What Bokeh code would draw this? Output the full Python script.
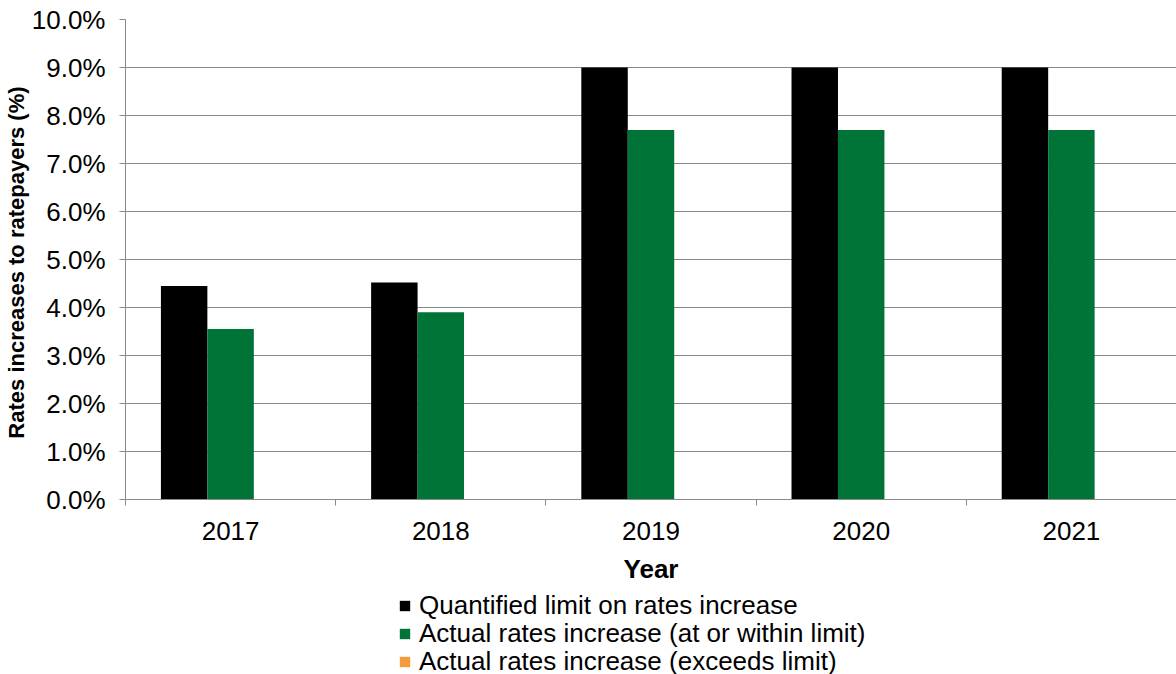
import math
from bokeh.plotting import figure
from bokeh.layouts import column
from bokeh.models import (ColumnDataSource, Range1d, FixedTicker, PrintfTickFormatter,
                          Legend, LegendItem)
from bokeh.embed import file_html
from bokeh.resources import INLINE

# ---- data (percent) ----
years = ["2017", "2018", "2019", "2020", "2021"]
quantified_limit = [4.45, 4.52, 9.0, 9.0, 9.0]
actual_within = [3.55, 3.9, 7.7, 7.7, 7.7]
actual_exceeds = [math.nan, math.nan, math.nan, math.nan, math.nan]
y_ticks = [0, 1, 2, 3, 4, 5, 6, 7, 8, 9, 10]

series_names = ["Quantified limit on rates increase",
                "Actual rates increase (at or within limit)",
                "Actual rates increase (exceeds limit)"]
series_values = [quantified_limit, actual_within, actual_exceeds]
series_colors = ["#000000", "#007336", "#F79A3B"]

FONT = "Liberation Sans"
GRID = "#8a8a8a"

centers = [i + 0.5 for i in range(len(years))]
bar_w = 0.221
offsets = [-bar_w, 0.0, bar_w]

p = figure(width=1176, height=590, output_backend="svg", toolbar_location=None,
           x_range=Range1d(0, len(years)), y_range=Range1d(0, 10),
           min_border_left=124, min_border_right=0, min_border_top=19,
           min_border_bottom=91)
p.outline_line_color = None
p.background_fill_color = "white"
p.border_fill_color = "white"

for name, vals, col, off in zip(series_names, series_values, series_colors, offsets):
    src = ColumnDataSource(dict(x=[c + off for c in centers], top=vals))
    p.vbar(x="x", top="top", width=bar_w, bottom=0, source=src,
           fill_color=col, line_color=None)

# grid
p.xgrid.grid_line_color = None
p.ygrid.grid_line_color = GRID
p.ygrid.grid_line_width = 1

# y axis
ya = p.yaxis[0]
ya.ticker = FixedTicker(ticks=y_ticks, minor_ticks=[])
ya.formatter = PrintfTickFormatter(format="%.1f%%")
ya.axis_line_color = GRID
ya.major_tick_line_color = GRID
ya.major_tick_out = 6
ya.major_tick_in = 0
ya.minor_tick_line_color = None
ya.major_label_text_font = FONT
ya.major_label_text_font_size = "26px"
ya.major_label_text_color = "black"
ya.major_label_standoff = 14
ya.axis_label = "Rates increases to  ratepayers (%)"
ya.axis_label_text_font = FONT
ya.axis_label_text_font_size = "22px"
ya.axis_label_text_font_style = "bold"
ya.axis_label_text_color = "black"
ya.axis_label_standoff = 0

# x axis
xa = p.xaxis[0]
xa.ticker = FixedTicker(ticks=centers, minor_ticks=list(range(len(years) + 1)))
xa.major_label_overrides = {c: y for c, y in zip(centers, years)}
xa.axis_line_color = GRID
xa.major_tick_line_color = None
xa.minor_tick_line_color = GRID
xa.minor_tick_out = 6
xa.minor_tick_in = 0
xa.major_tick_out = 6
xa.major_label_text_font = FONT
xa.major_label_text_font_size = "26px"
xa.major_label_text_color = "black"
xa.major_label_standoff = 16
xa.axis_label = "Year"
xa.axis_label_text_font = FONT
xa.axis_label_text_font_size = "26px"
xa.axis_label_text_font_style = "bold"
xa.axis_label_text_color = "black"
xa.axis_label_standoff = 11

# ---- legend strip below the chart (same frame as the chart) ----
pl = figure(width=1176, height=84, output_backend="svg", toolbar_location=None,
            x_axis_location=None, y_axis_location=None,
            x_range=Range1d(0, 1), y_range=Range1d(0, 1),
            min_border_left=124, min_border_right=0, min_border_top=0, min_border_bottom=0)
pl.outline_line_color = None
pl.grid.visible = False
pl.border_fill_color = "white"
pl.background_fill_color = "white"

row_y = [53, 25, -3]   # screen offsets of the three legend rows inside the strip
for name, col, yy in zip(series_names, series_colors, row_y):
    r = pl.vbar(x=[0.5], top=[math.nan], width=0.1, fill_color=col, line_color=None)
    lg = Legend(items=[LegendItem(label=name, renderers=[r])], location=(273, yy),
                orientation="vertical",
                label_text_font=FONT, label_text_font_size="26px", label_text_color="black",
                glyph_width=13, glyph_height=13, label_standoff=8,
                spacing=0, padding=0, margin=0, border_line_color=None,
                background_fill_alpha=0)
    pl.add_layout(lg, "center")

layout = column(p, pl, spacing=0)
open("out.html", "w").write(file_html(layout, INLINE))
